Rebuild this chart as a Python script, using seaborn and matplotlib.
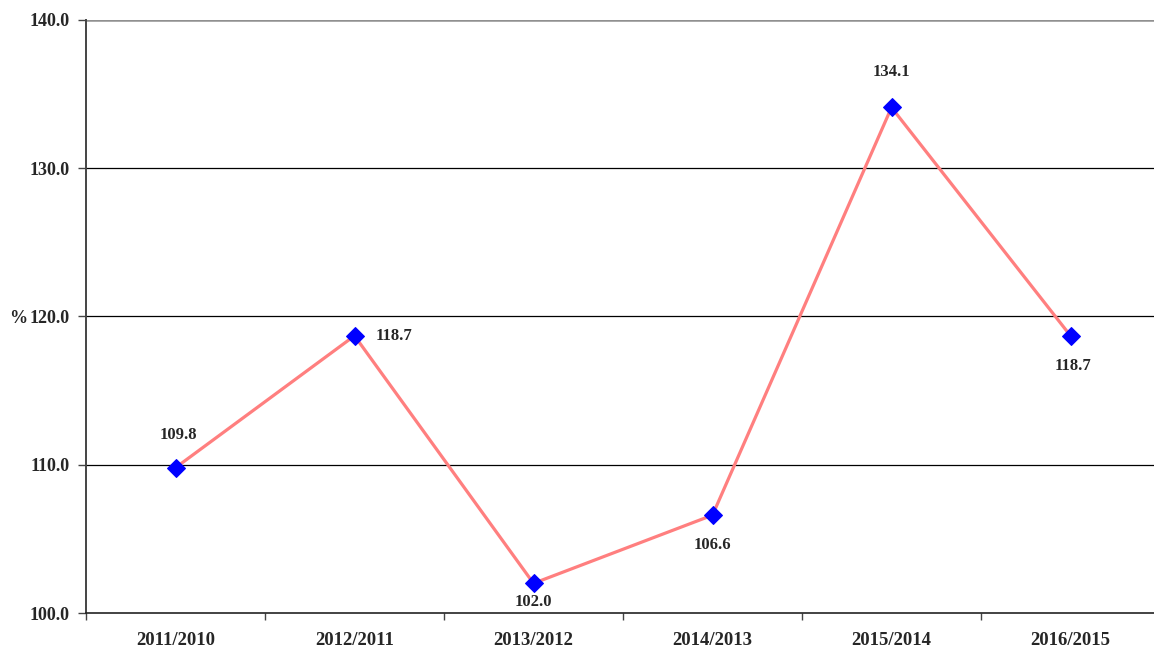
import matplotlib
matplotlib.use("Agg")
import matplotlib.pyplot as plt
import seaborn as sns
import pandas as pd

periods = ["2011/2010", "2012/2011", "2013/2012", "2014/2013", "2015/2014", "2016/2015"]
values = [109.8, 118.7, 102.0, 106.6, 134.1, 118.7]
y_ticks = [100.0, 110.0, 120.0, 130.0, 140.0]

sns.set_theme(style="white")
plt.rcParams["font.family"] = ["Liberation Serif", "DejaVu Serif"]
plt.rcParams["font.weight"] = "bold"

df = pd.DataFrame({"period": periods, "value": values, "x": range(len(periods))})

fig = plt.figure(figsize=(11.54, 6.5), dpi=100)
ax = fig.add_axes([86 / 1154, 1 - 613 / 650, (1160 - 86) / 1154, (613 - 20) / 650])

sns.lineplot(data=df, x="x", y="value", ax=ax, color="#FF7F7F", linewidth=2.3,
             marker="D", markersize=9, markerfacecolor="#0000FF",
             markeredgecolor="#0000FF", zorder=3)

ax.set_xlim(-0.5, len(periods) - 0.5)
ax.set_ylim(100, 140)
ax.set_yticks(y_ticks)
ax.set_yticklabels([f"{v:.1f}" for v in y_ticks], fontsize=13, fontweight="bold")

for v in y_ticks[1:-1]:
    ax.axhline(v, color="black", linewidth=0.9, zorder=1)
ax.axhline(140, color="#909090", linewidth=1.8, zorder=1)

# category labels centred, tick marks on the boundaries
ax.set_xticks([i - 0.5 for i in range(len(periods) + 1)])
ax.set_xticklabels([])
ax.set_xticks(range(len(periods)), minor=True)
ax.set_xticklabels(periods, minor=True, fontsize=13.5, fontweight="bold")
ax.tick_params(axis="x", which="major", direction="out", length=5, width=1, color="#444444", bottom=True)
ax.tick_params(axis="x", which="minor", length=0, pad=14)
ax.tick_params(axis="y", direction="out", length=6, width=1, color="#444444", left=True, pad=6)

for s in ["top", "right"]:
    ax.spines[s].set_visible(False)
ax.spines["left"].set_color("#444444")
ax.spines["left"].set_linewidth(1.4)
ax.spines["bottom"].set_color("#222222")
ax.spines["bottom"].set_linewidth(1.2)

ax.set_xlabel("")
ax.set_ylabel("%", rotation=0, fontsize=13, fontweight="bold", va="center")
ax.yaxis.set_label_coords(-0.063, 0.496)

# value labels: offsets in points (dx, dy) and alignment per point
label_style = [
    ((2, 18), "center", "bottom"),
    ((15, 0), "left", "center"),
    ((0, -8), "center", "top"),
    ((0, -16), "center", "top"),
    ((0, 20), "center", "bottom"),
    ((2, -16), "center", "top"),
]
for x, v, ((dx, dy), ha, va) in zip(df["x"], values, label_style):
    ax.annotate(f"{v:.1f}", (x, v), xytext=(dx, dy), textcoords="offset points",
                ha=ha, va=va, fontsize=12, fontweight="bold")

fig.savefig("out.png", dpi=100)
